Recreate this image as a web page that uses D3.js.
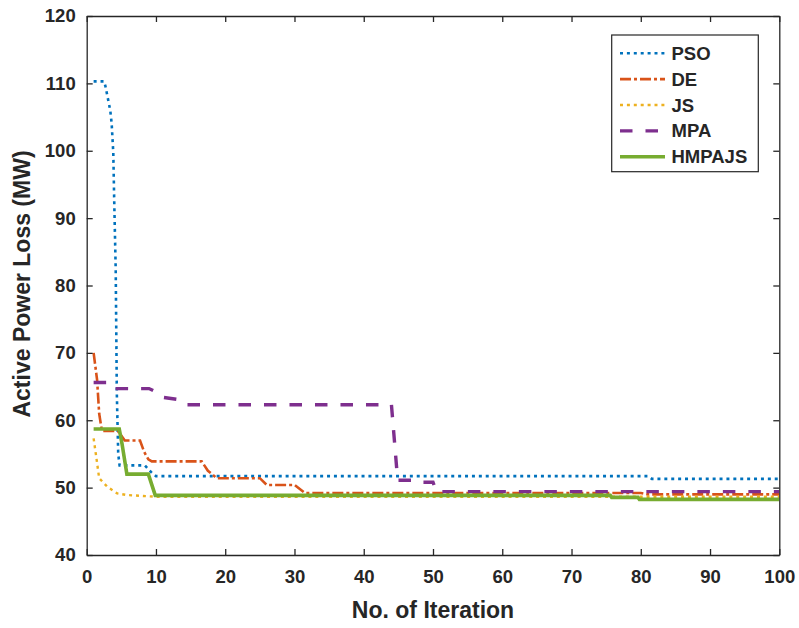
<!DOCTYPE html>
<html>
<head>
<meta charset="utf-8">
<script src="https://cdn.jsdelivr.net/npm/d3@7"></script>
<style>
  html, body { margin: 0; padding: 0; background: #fff; }
  svg { display: block; }
  text { font-family: "Liberation Sans", Arial, Helvetica, sans-serif; font-weight: bold; fill: #262626; }
</style>
</head>
<body>
<svg id="chart" width="799" height="628"></svg>
<script>
// ---- Data ----
const xTicks = [0, 10, 20, 30, 40, 50, 60, 70, 80, 90, 100];
const yTicks = [40, 50, 60, 70, 80, 90, 100, 110, 120];

const seriesNames = ["PSO", "DE", "JS", "MPA", "HMPAJS"];

const psoIter = [1, 2.5, 2.7, 3.4, 3.6, 3.84, 3.98, 4.19, 4.35, 4.55, 4.75, 8.4, 9.4, 10, 81, 81.6, 100];
const psoLoss = [110.3, 110.3, 109.6, 106, 104.1, 99.7, 92.2, 82.3, 64, 55, 53.3, 53.3, 52.2, 51.7, 51.7, 51.3, 51.3];

const deIter = [1, 1.5, 1.8, 2.2, 4.5, 5.5, 7.7, 8.3, 8.9, 9.4, 16.6, 17.5, 18.8, 25, 26, 30, 31.5, 80, 81, 100];
const deLoss = [70, 66, 61, 58.4, 58.4, 57, 57, 55.3, 54.2, 53.9, 53.9, 52.5, 51.4, 51.4, 50.4, 50.4, 49.2, 49.2, 49.0, 49.0];

const jsIter = [1, 1.4, 1.8, 3, 4.4, 5.8, 10, 100];
const jsLoss = [57.3, 54.4, 51.4, 50.1, 49.15, 48.9, 48.65, 48.65];

const mpaIter = [1, 3.5, 4, 9, 10, 11, 13, 14, 44, 44.9, 47, 47.5, 50, 50.5, 100];
const mpaLoss = [65.6, 65.6, 64.7, 64.7, 64.2, 63.4, 63.1, 62.3, 62.3, 51.1, 51.1, 50.8, 50.8, 49.4, 49.4];

const hmIter = [1, 4.7, 5.1, 5.8, 8.9, 9.9, 75.6, 75.8, 79.6, 79.8, 100];
const hmLoss = [58.7, 58.7, 56.5, 52, 52, 48.85, 48.85, 48.55, 48.55, 48.25, 48.25];

// ---- Layout ----
const svg = d3.select("#chart");
const M = { left: 86.7, top: 16, right: 799 - 779.3, bottom: 628 - 555 };
const W = 799 - M.left - M.right;
const H = 628 - M.top - M.bottom;

const x = d3.scaleLinear().domain([0, 100]).range([M.left, M.left + W]);
const y = d3.scaleLinear().domain([40, 120]).range([M.top + H, M.top]);

const styles = {
  PSO:    { color: "#0072BD", width: 2.6, dash: "3,3.9" },
  DE:     { color: "#D95319", width: 2.6, dash: "11,3,3,3" },
  JS:     { color: "#EDB120", width: 2.4, dash: "3,3.9" },
  MPA:    { color: "#7E2F8E", width: 3.4, dash: "12.5,13" },
  HMPAJS: { color: "#77AC30", width: 3.6, dash: null }
};

const seriesData = {
  PSO: d3.zip(psoIter, psoLoss),
  DE: d3.zip(deIter, deLoss),
  JS: d3.zip(jsIter, jsLoss),
  MPA: d3.zip(mpaIter, mpaLoss),
  HMPAJS: d3.zip(hmIter, hmLoss)
};

const line = d3.line().x(d => x(d[0])).y(d => y(d[1]));

svg.append("defs").append("clipPath").attr("id", "clip")
  .append("rect").attr("x", M.left).attr("y", M.top).attr("width", W).attr("height", H);

const plot = svg.append("g").attr("clip-path", "url(#clip)");
seriesNames.forEach(name => {
  const s = styles[name];
  plot.append("path")
    .datum(seriesData[name])
    .attr("fill", "none")
    .attr("stroke", s.color)
    .attr("stroke-width", s.width)
    .attr("stroke-dasharray", s.dash)
    .attr("stroke-linejoin", "miter")
    .attr("d", line);
});

// ---- Axes (MATLAB-style box with inward ticks on all sides) ----
const axisColor = "#262626";
const tickLen = 6;
const axG = svg.append("g");

const axBottom = axG.append("g").attr("transform", `translate(0,${M.top + H})`)
  .call(d3.axisBottom(x).tickValues(xTicks).tickSizeInner(-tickLen).tickSizeOuter(0).tickPadding(15));
const axTop = axG.append("g").attr("transform", `translate(0,${M.top})`)
  .call(d3.axisTop(x).tickValues(xTicks).tickSizeInner(-tickLen).tickSizeOuter(0).tickFormat(""));
const axLeft = axG.append("g").attr("transform", `translate(${M.left},0)`)
  .call(d3.axisLeft(y).tickValues(yTicks).tickSizeInner(-tickLen).tickSizeOuter(0).tickPadding(11));
const axRight = axG.append("g").attr("transform", `translate(${M.left + W},0)`)
  .call(d3.axisRight(y).tickValues(yTicks).tickSizeInner(-tickLen).tickSizeOuter(0).tickFormat(""));

[axBottom, axTop, axLeft, axRight].forEach(g => {
  g.selectAll("path.domain").attr("stroke", axisColor).attr("stroke-width", 1.3);
  g.selectAll(".tick line").attr("stroke", axisColor).attr("stroke-width", 1.3);
  g.selectAll(".tick text").attr("fill", axisColor)
    .style("font-family", '"Liberation Sans", Arial, sans-serif')
    .style("font-weight", "bold").style("font-size", "18.5px");
});

// ---- Axis titles ----
svg.append("text")
  .attr("x", 433).attr("y", 618)
  .attr("text-anchor", "middle")
  .style("font-size", "23px")
  .text("No. of Iteration");

svg.append("text")
  .attr("transform", `translate(30,${284}) rotate(-90)`)
  .attr("text-anchor", "middle")
  .style("font-size", "23px")
  .text("Active Power Loss (MW)");

// ---- Legend ----
const lg = svg.append("g");
lg.append("rect")
  .attr("x", 611.7).attr("y", 35).attr("width", 146.6).attr("height", 136.7)
  .attr("fill", "#fff").attr("stroke", axisColor).attr("stroke-width", 1.2);

const legY = d3.scalePoint().domain(seriesNames).range([53.3, 156.7]);
seriesNames.forEach(name => {
  const s = styles[name];
  const yy = legY(name);
  lg.append("line")
    .attr("x1", 620).attr("x2", 665).attr("y1", yy).attr("y2", yy)
    .attr("stroke", s.color).attr("stroke-width", s.width)
    .attr("stroke-dasharray", s.dash);
  lg.append("text")
    .attr("x", 671.5).attr("y", yy)
    .attr("dominant-baseline", "central")
    .style("font-size", "18.5px")
    .text(name);
});
</script>
</body>
</html>
